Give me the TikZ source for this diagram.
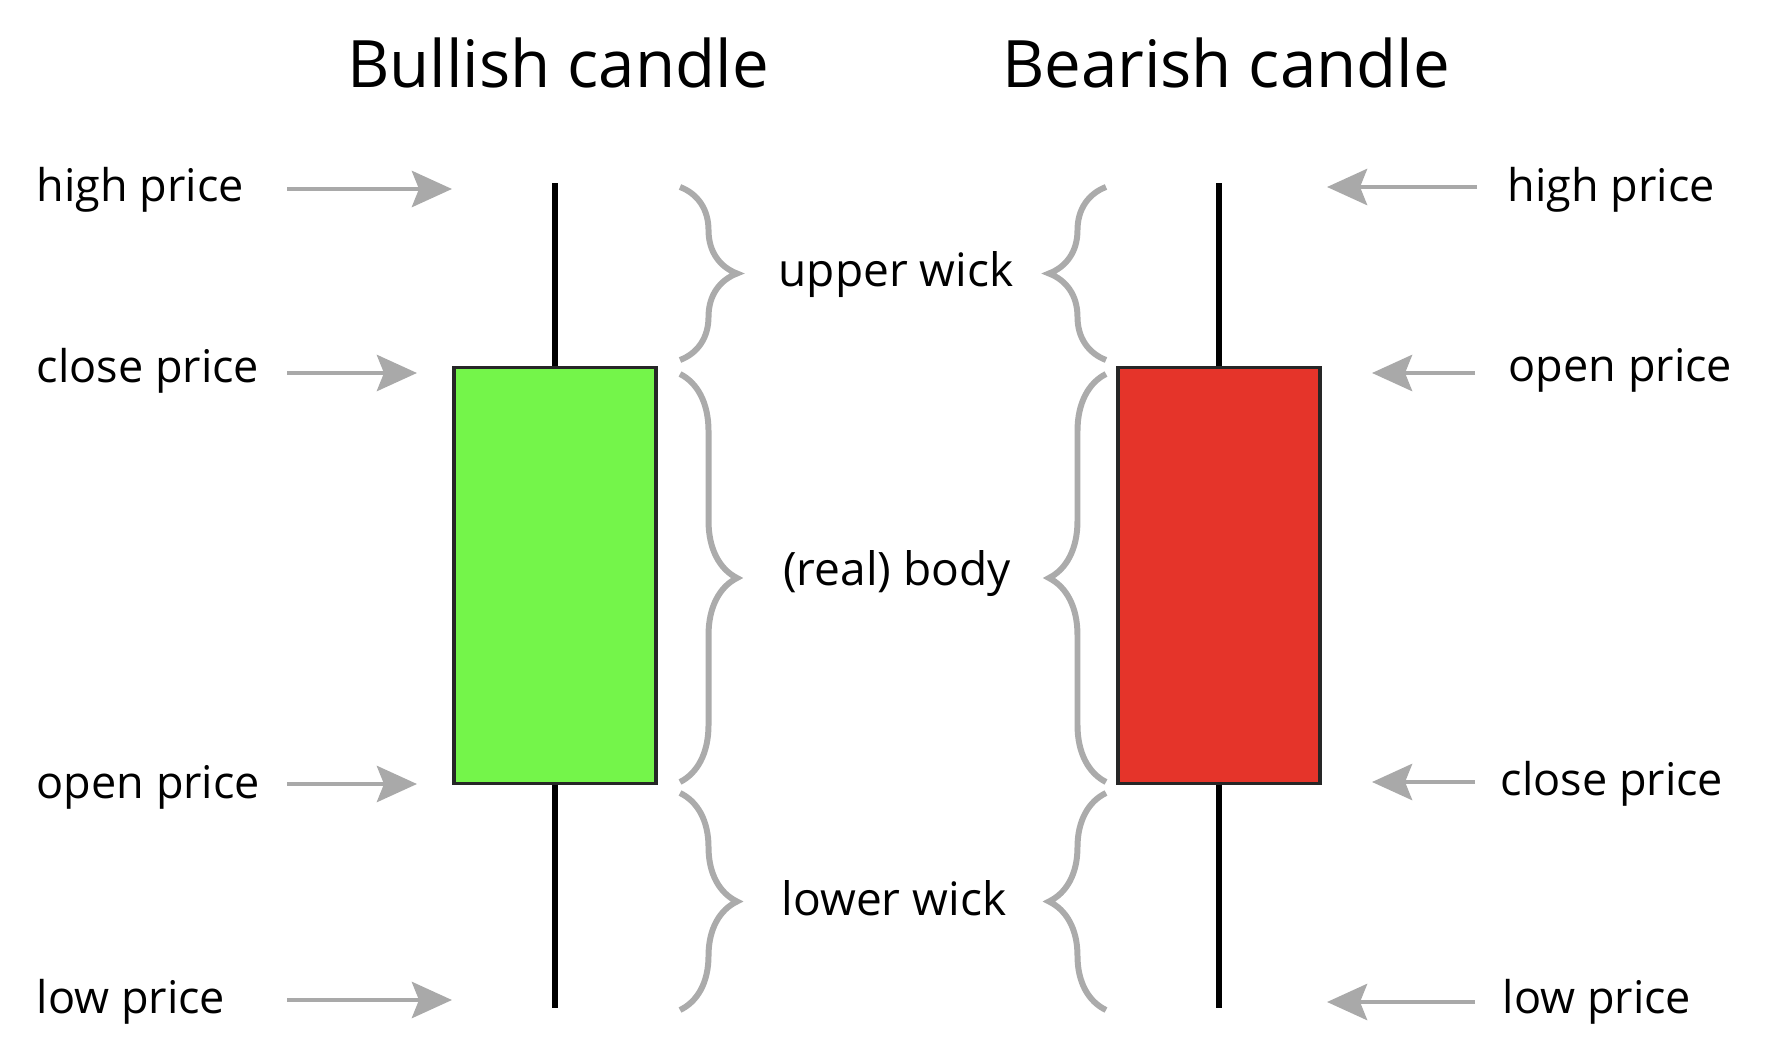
\documentclass[tikz,border=0pt]{standalone}
\usepackage{fontspec}
\setmainfont{Open Sans}
\definecolor{bullgreen}{HTML}{74F54A}
\definecolor{bearred}{HTML}{E5342A}
\definecolor{edgedark}{HTML}{262626}
\definecolor{pointgray}{HTML}{A9A9A9}
\definecolor{bracegray}{HTML}{ABABAB}
\usetikzlibrary{arrows.meta,positioning,decorations.pathreplacing}

\begin{document}
\begin{tikzpicture}[x=0.01cm, y=-0.01cm,
  heading/.style={font=\fontsize{18.6}{22}\selectfont, anchor=base, inner sep=0pt},
  price/.style={font=\fontsize{12.8}{16}\selectfont, anchor=base west, inner sep=0pt},
  part/.style={font=\fontsize{13.1}{16}\selectfont, anchor=base, inner sep=0pt},
  candle/.style={rectangle, draw=edgedark, line width=0.9pt, minimum width=2.02cm, minimum height=4.15cm, inner sep=0pt},
  wick/.style={draw=black, line width=1.7pt},
  pointer/.style={draw=pointgray, line width=1.4pt, -{Stealth[length=0.4cm, width=0.36cm, inset=0.07cm]}},
  curly/.style={draw=bracegray, line width=1.7pt, decorate, decoration={brace, amplitude=0.57cm}}]
\useasboundingbox (0,0) rectangle (1776,1058);

% headings
\node[heading] (bull-title) at (558,88) {Bullish candle};
\node[heading] (bear-title) at (1226,88) {Bearish candle};

% candles
\node[candle, fill=bullgreen] (bull) at (555,575.5) {};
\node[candle, fill=bearred] (bear) at (1219,575.5) {};
\coordinate (bull-high) at (555,183);
\coordinate (bull-low) at (555,1008);
\coordinate (bear-high) at (1219,183);
\coordinate (bear-low) at (1219,1008);
\draw[wick] (bull.north) -- (bull-high);
\draw[wick] (bull.south) -- (bull-low);
\draw[wick] (bear.north) -- (bear-high);
\draw[wick] (bear.south) -- (bear-low);

% left side prices
\node[price] (l-high) at (36,202) {high price};
\node[price] (l-close) at (36,383) {close price};
\node[price] (l-open) at (36,798) {open price};
\node[price] (l-low) at (36,1013) {low price};
\coordinate (lh-from) at (287,189);  \coordinate (lh-to) at (452,189);
\coordinate (lc-from) at (287,373);  \coordinate (lc-to) at (417,373);
\coordinate (lo-from) at (287,784);  \coordinate (lo-to) at (417,784);
\coordinate (ll-from) at (287,1000); \coordinate (ll-to) at (452,1000);
\draw[pointer] (lh-from) -- (lh-to);
\draw[pointer] (lc-from) -- (lc-to);
\draw[pointer] (lo-from) -- (lo-to);
\draw[pointer] (ll-from) -- (ll-to);

% right side prices
\node[price] (r-high) at (1507,202) {high price};
\node[price] (r-open) at (1508,382) {open price};
\node[price] (r-close) at (1500,795) {close price};
\node[price] (r-low) at (1502,1013) {low price};
\coordinate (rh-from) at (1477,187);  \coordinate (rh-to) at (1327,187);
\coordinate (ro-from) at (1475,373);  \coordinate (ro-to) at (1372,373);
\coordinate (rc-from) at (1475,782);  \coordinate (rc-to) at (1372,782);
\coordinate (rl-from) at (1475,1002); \coordinate (rl-to) at (1327,1002);
\draw[pointer] (rh-from) -- (rh-to);
\draw[pointer] (ro-from) -- (ro-to);
\draw[pointer] (rc-from) -- (rc-to);
\draw[pointer] (rl-from) -- (rl-to);

% braces and parts
\node[part] (upper) at (896,287) {upper wick};
\node[part] (real) at (897,585) {(real) body};
\node[part] (lower) at (894,915) {lower wick};
\draw[curly] (680,187) -- (680,360);
\draw[curly] (680,374) -- (680,782);
\draw[curly] (680,793) -- (680,1010);
\draw[curly] (1106,360) -- (1106,187);
\draw[curly] (1106,782) -- (1106,374);
\draw[curly] (1106,1010) -- (1106,793);
\end{tikzpicture}
\end{document}
